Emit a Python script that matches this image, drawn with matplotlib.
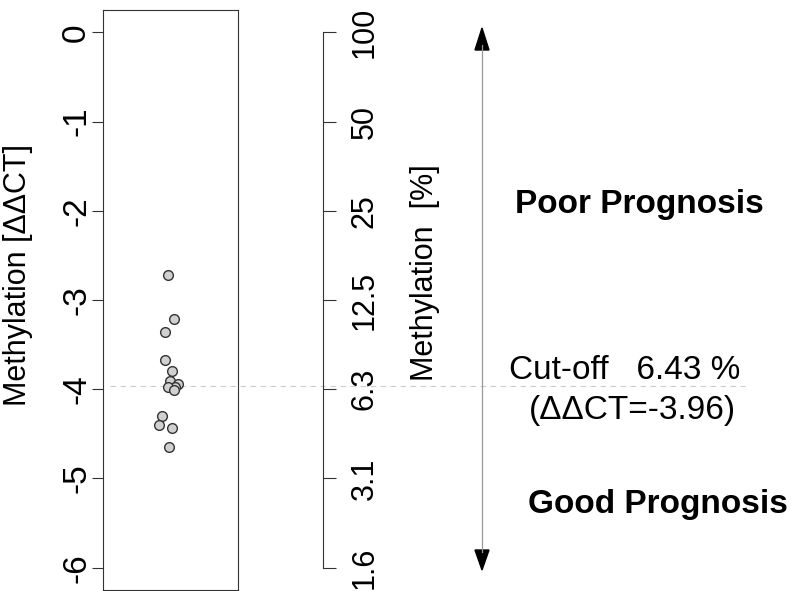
import numpy as np
import matplotlib
matplotlib.use("Agg")
import matplotlib.pyplot as plt
from matplotlib.patches import Polygon
from matplotlib.transforms import blended_transform_factory

plt.rcParams['font.family'] = ['Liberation Sans', 'DejaVu Sans']

# methylation values (ddCT) and their horizontal jitter inside the strip
ddct = [-2.72, -3.21, -3.36, -3.67, -3.80, -3.905, -3.94, -3.97, -3.98, -4.01,
        -4.30, -4.40, -4.44, -4.65]
jitter = [0.479, 0.526, 0.461, 0.461, 0.513, 0.496, 0.558, 0.537, 0.485, 0.526,
          0.435, 0.417, 0.513, 0.491]

left_ticks = [0, -1, -2, -3, -4, -5, -6]
pct_labels = ['100', '50', '25', '12.5', '6.3', '3.1', '1.6']
cutoff_ddct = -3.96
cutoff_pct = 6.43

W, H = 791, 591
fig = plt.figure(figsize=(W / 100, H / 100), dpi=100)

# main strip chart
ax = fig.add_axes([103.3 / W, 1 / H, 134.4 / W, 580 / H])
ax.set_xlim(0, 1)
ax.set_ylim(-6.25, 0.25)
ax.plot(jitter, ddct, 'o', ms=7, mfc='#d0d0d0', mec='#333333', mew=1, zorder=3)
ax.set_xticks([])
ax.set_yticks(left_ticks)
ax.set_yticklabels([str(t) for t in left_ticks], rotation=90, va='center')
ax.tick_params(axis='y', length=8, width=0.8, pad=0, labelsize=24, color='#333333')
for s in ax.spines.values():
    s.set_linewidth(0.8)
    s.set_color('#333333')

# percentage axis
ax2 = fig.add_axes([250 / W, 1 / H, 73 / W, 580 / H])
ax2.set_ylim(-6.25, 0.25)
ax2.patch.set_visible(False)
for side in ['left', 'top', 'bottom']:
    ax2.spines[side].set_visible(False)
ax2.spines['right'].set_bounds(-6, 0)
ax2.spines['right'].set_linewidth(0.8)
ax2.spines['right'].set_color('#333333')
ax2.set_xticks([])
ax2.yaxis.tick_right()
ax2.set_yticks(left_ticks)
ax2.set_yticklabels(pct_labels, rotation=90, va='center')
ax2.tick_params(axis='y', length=9, width=0.8, pad=10, labelsize=22, color='#333333')

fig.text(18 / W, 1 - 275 / H, 'Methylation [ΔΔCT]', rotation=90,
         ha='center', va='center', fontsize=22)
fig.text(425 / W, 1 - 273 / H, 'Methylation  [%]', rotation=90,
         ha='center', va='center', fontsize=22)

# cut-off dashed line across the figure
tr = blended_transform_factory(fig.transFigure, ax.transData)
ax.plot([110 / W, 745 / W], [cutoff_ddct, cutoff_ddct], transform=tr,
        ls=(0, (5, 4)), color='#cccccc', lw=0.8, clip_on=False, zorder=1)

# double arrow
ax_x = 482 / W
fig.add_artist(plt.Line2D([ax_x, ax_x], [1 - 45 / H, 1 - 552 / H],
                          transform=fig.transFigure, color='#999999', lw=0.9))
hw = 7 / W
fig.add_artist(Polygon([[ax_x - hw, 1 - 50 / H], [ax_x + hw, 1 - 50 / H], [ax_x, 1 - 28 / H]],
                       closed=True, transform=fig.transFigure, color='black'))
fig.add_artist(Polygon([[ax_x - hw, 1 - 550 / H], [ax_x + hw, 1 - 550 / H], [ax_x, 1 - 570 / H]],
                       closed=True, transform=fig.transFigure, color='black'))

fig.text(515 / W, 1 - 213 / H, 'Poor Prognosis', fontsize=24, fontweight='bold', va='baseline')
fig.text(528 / W, 1 - 513 / H, 'Good Prognosis', fontsize=24, fontweight='bold', va='baseline')
fig.text(509 / W, 1 - 379 / H, f'Cut-off   {cutoff_pct} %', fontsize=24, va='baseline')
fig.text(529 / W, 1 - 419 / H, f'(ΔΔCT={cutoff_ddct})', fontsize=24, va='baseline')

fig.savefig('out.png', dpi=100)
